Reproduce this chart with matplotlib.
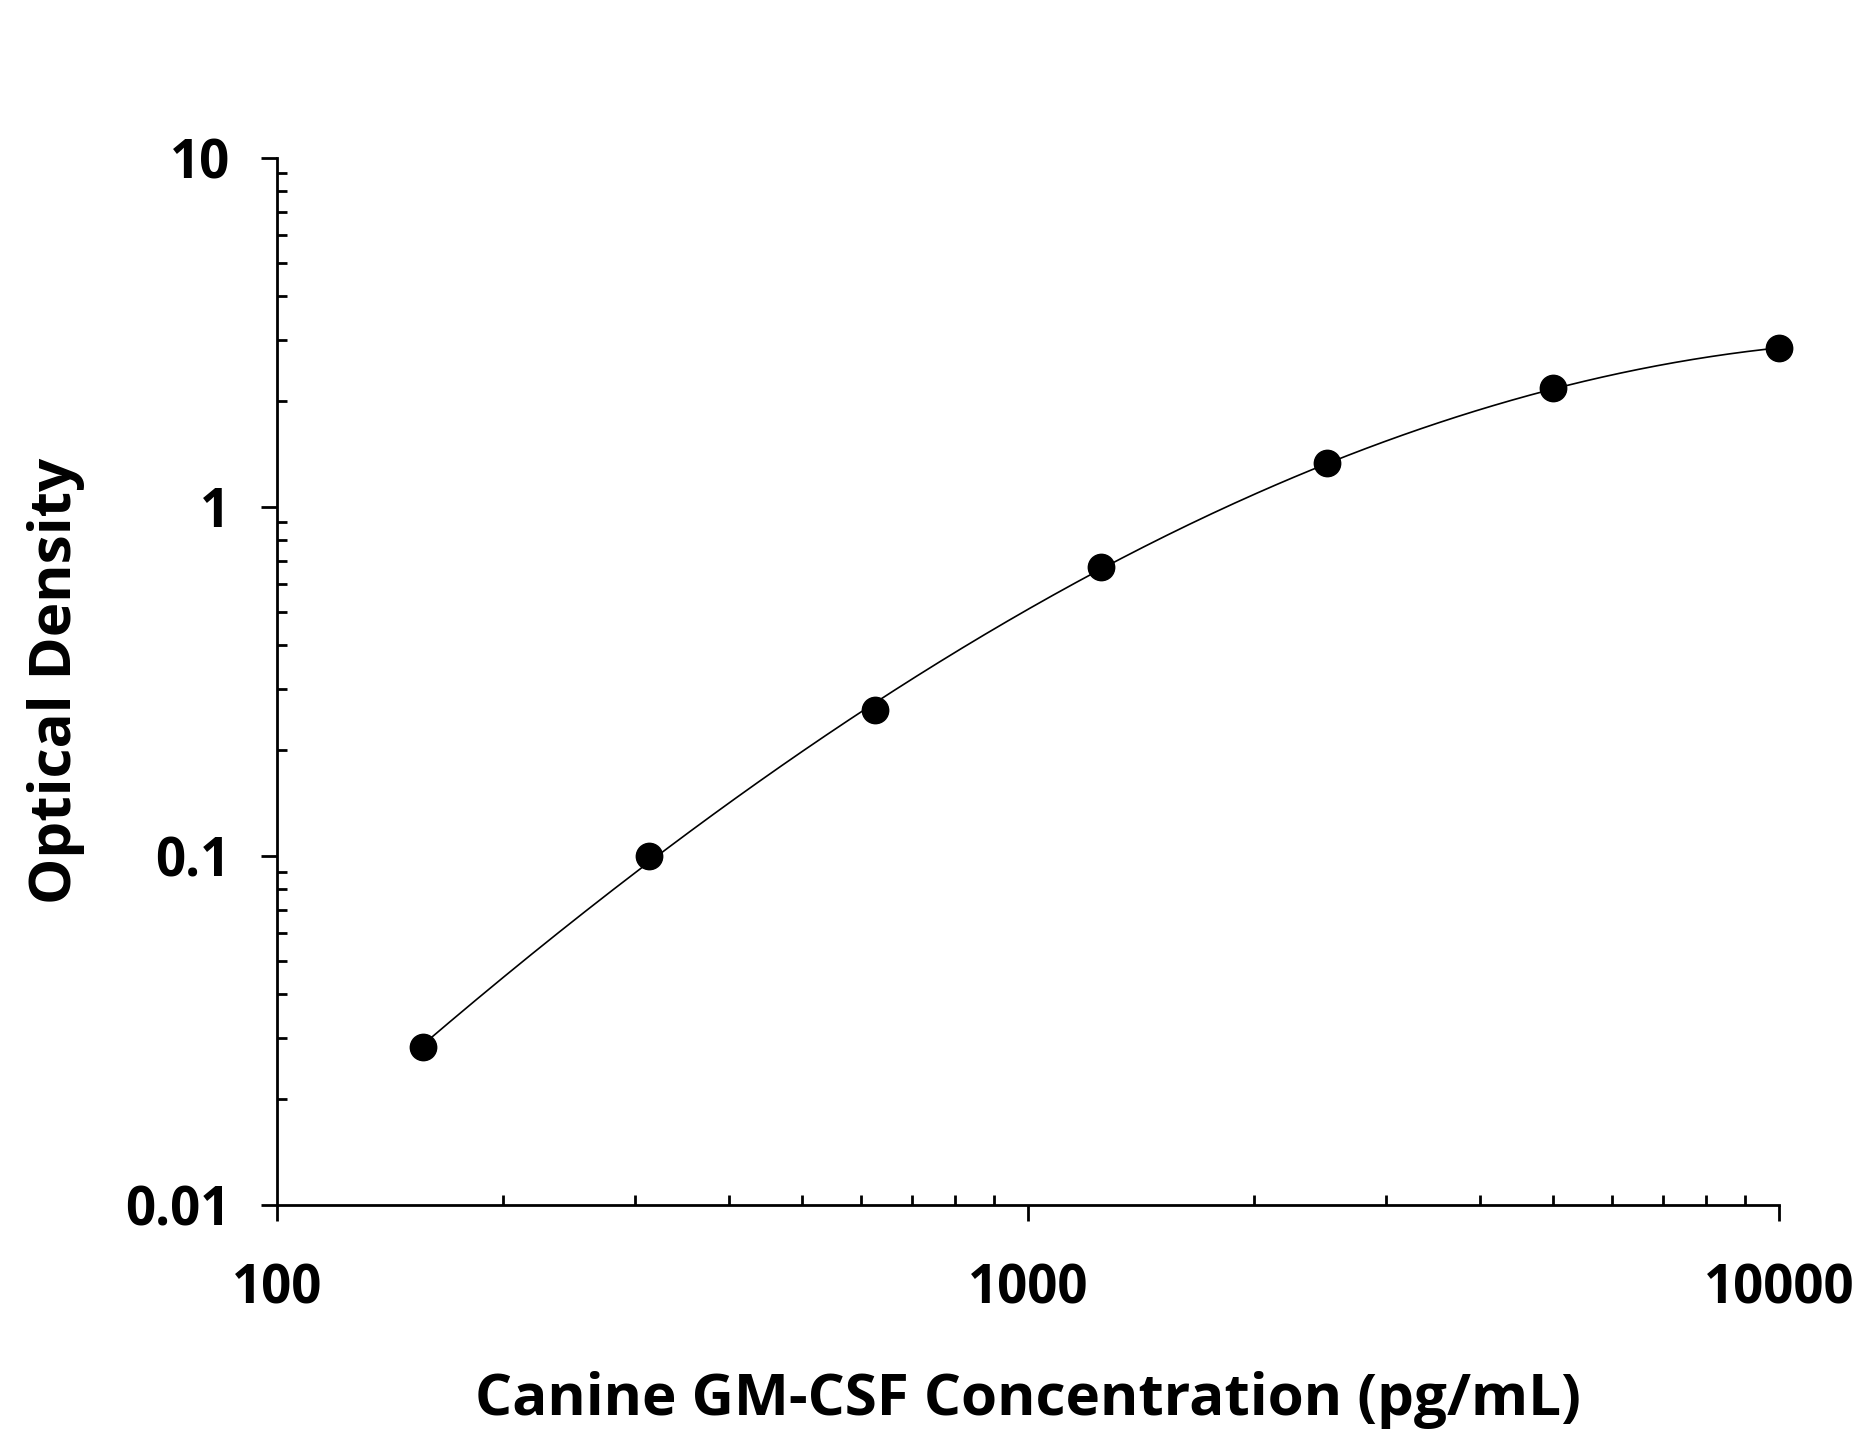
import numpy as np
import matplotlib
matplotlib.use('Agg')
import matplotlib.pyplot as plt
from matplotlib.ticker import LogLocator, NullFormatter, FixedLocator, FixedFormatter

plt.rcParams['font.family'] = ['Open Sans', 'DejaVu Sans']
plt.rcParams['font.weight'] = 'bold'

# standard curve values
conc = [156.25, 312.5, 625, 1250, 2500, 5000, 10000]
od = [0.0283, 0.0995, 0.262, 0.669, 1.33, 2.18, 2.84]

xticks = [100, 1000, 10000]
xtick_labels = ['100', '1000', '10000']
yticks = [0.01, 0.1, 1, 10]
ytick_labels = ['0.01', '0.1', '1', '10']

fig = plt.figure(figsize=(18.59, 14.45), dpi=100)
ax = fig.add_axes([0.149, 0.1664, 0.808, 0.7246])

# smooth fit through the points in log-log space
lx = np.log10(conc)
ly = np.log10(od)
coef = np.polyfit(lx, ly, 3)
xs = np.linspace(lx[0], lx[-1], 300)
ax.plot(10 ** xs, 10 ** np.polyval(coef, xs), color='black', lw=1.2, zorder=2)
ax.plot(conc, od, 'o', color='black', ms=19, zorder=3, clip_on=False)

ax.set_xscale('log')
ax.set_yscale('log')
ax.set_xlim(100, 10000)
ax.set_ylim(0.01, 10)

for s in ['top', 'right']:
    ax.spines[s].set_visible(False)
for s in ['left', 'bottom']:
    ax.spines[s].set_linewidth(2.0)

ax.xaxis.set_major_locator(FixedLocator(xticks))
ax.xaxis.set_major_formatter(FixedFormatter(xtick_labels))
ax.yaxis.set_major_locator(FixedLocator(yticks))
ax.yaxis.set_major_formatter(FixedFormatter(ytick_labels))
ax.xaxis.set_minor_locator(LogLocator(base=10, subs=np.arange(2, 10)))
ax.yaxis.set_minor_locator(LogLocator(base=10, subs=np.arange(2, 10)))
ax.xaxis.set_minor_formatter(NullFormatter())
ax.yaxis.set_minor_formatter(NullFormatter())

ax.tick_params(which='major', direction='out', length=11.5, width=2.0,
               labelsize=38, pad=30)
ax.tick_params(axis='y', which='major', pad=22)
ax.tick_params(which='minor', direction='in', length=7.5, width=2.0)

ax.set_xlabel('Canine GM-CSF Concentration (pg/mL)', fontsize=42,
              fontweight='bold', va='center')
ax.xaxis.set_label_coords(0.5, -0.187)
ax.set_ylabel('Optical Density', fontsize=42, fontweight='bold', va='center')
ax.yaxis.set_label_coords(-0.147, 0.5)

fig.savefig('out.png', dpi=100)
